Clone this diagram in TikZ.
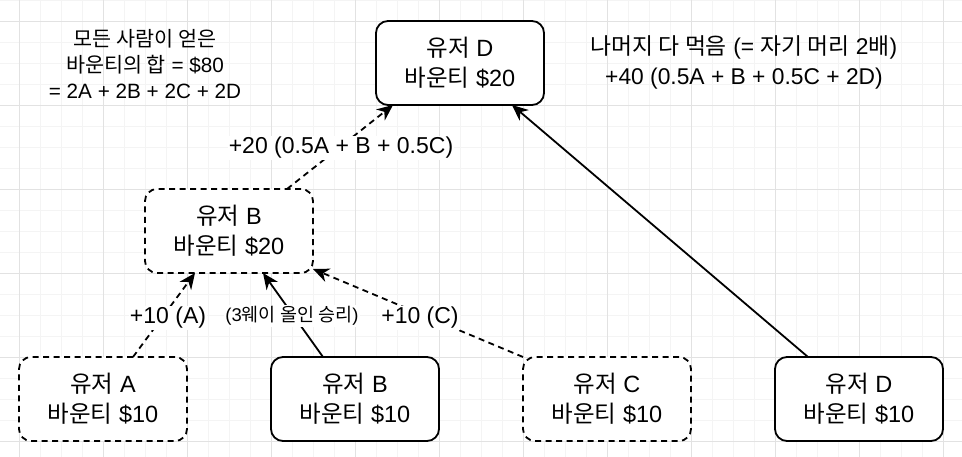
\documentclass[tikz,border=0pt]{standalone}
\usepackage{fontspec}
\setmainfont{Liberation Sans}
\newfontfamily\kr{Noto Sans CJK KR}
\usetikzlibrary{positioning, calc, arrows.meta}
\definecolor{gridMajor}{RGB}{226,226,226}
\definecolor{gridMinor}{RGB}{244,244,244}

\begin{document}
\begin{tikzpicture}[
    x=1pt, y=-1pt,
    player/.style={draw, line width=1.8pt, rounded corners=12pt, fill=white, minimum width=168pt, minimum height=84pt, inner sep=0pt, outer sep=0pt, align=center, font=\fontsize{23.5}{30}\selectfont},
    ghost/.style={player, dash pattern=on 6pt off 4.5pt},
    gain/.style={fill=white, inner sep=1pt, font=\fontsize{23}{28}\selectfont},
    note/.style={align=center, inner sep=0pt},
    link/.style={line width=1.8pt, -{Stealth[length=16pt, width=14pt, inset=5pt]}},
    dlink/.style={link, dash pattern=on 6pt off 4.5pt},
    node distance=84pt
  ]
  \useasboundingbox (0,0) rectangle (962,457);
  % grid
  \foreach \x in {19,40,...,961} \draw[gridMinor, line width=0.8pt] (\x,0) -- (\x,457);
  \foreach \y in {0,21,...,457} \draw[gridMinor, line width=0.8pt] (0,\y) -- (962,\y);
  \foreach \x in {19,103,...,961} \draw[gridMajor, line width=0.8pt] (\x,0) -- (\x,457);
  \foreach \y in {21,105,...,457} \draw[gridMajor, line width=0.8pt] (0,\y) -- (962,\y);

  \node[ghost] (userA) at (103,399) {{\kr 유저} A\\{\kr 바운티} \$10};
  \node[player, right=of userA] (userB) {{\kr 유저} B\\{\kr 바운티} \$10};
  \node[ghost, right=of userB] (userC) {{\kr 유저} C\\{\kr 바운티} \$10};
  \node[player, right=of userC] (userD) {{\kr 유저} D\\{\kr 바운티} \$10};
  \node[ghost] (poolB) at (229,231) {{\kr 유저} B\\{\kr 바운티} \$20};
  \node[player] (winD) at (460,63) {{\kr 유저} D\\{\kr 바운티} \$20};

  \node[note, font=\fontsize{20.7}{26}\selectfont] (total) at (145,64) {{\kr 모든 사람이 얻은}\\{\kr 바운티의 합} = \$80\\= 2A + 2B + 2C + 2D};
  \node[note, font=\fontsize{22.8}{30}\selectfont] (rest) at (744,62) {{\kr 나머지 다 먹음} (= {\kr 자기 머리} 2{\kr 배})\\+40 (0.5A + B + 0.5C + 2D)};

  \draw[dlink] ([xshift=30pt]userA.north) -- ([xshift=-34pt]poolB.south);
  \draw[link] ([xshift=-32pt]userB.north) -- ([xshift=34pt]poolB.south);
  \draw[dlink] (userC.north west) -- ([yshift=4pt]poolB.south east);
  \draw[dlink] ([xshift=58pt]poolB.north) -- ([xshift=-67pt]winD.south);
  \draw[link] ([xshift=-51pt]userD.north) -- ([xshift=52pt]winD.south);

  \node[gain] (gainD) at (341,148) {+20 (0.5A + B + 0.5C)};
  \node[gain] (gainA) at (168,318) {+10 (A)};
  \node[gain, font=\fontsize{18.5}{22}\selectfont] (gainB) at (292,316) {(3{\kr 웨이 올인 승리})};
  \node[gain] (gainC) at (420,318) {+10 (C)};
\end{tikzpicture}
\end{document}
